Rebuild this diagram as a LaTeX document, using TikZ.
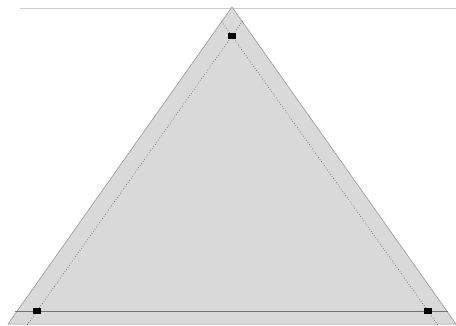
\documentclass[tikz,border=0pt]{standalone}
\usetikzlibrary{calc}
\begin{document}
\begin{tikzpicture}[x=1pt,y=-1pt,
  sq/.style={fill=black,draw=none,minimum width=8pt,minimum height=6pt,inner sep=0pt},
  guide/.style={dotted,line width=0.6pt,black!70},
  outer/.style={fill=black!15,draw=black!45,line width=0.5pt}]
\useasboundingbox (0,0) rectangle (456,325);
\fill[white] (0,0) rectangle (456,325);
% faint frame line at top
\draw[black!20,line width=0.8pt] (20,8) -- (456,8);
% outer gray triangle
\coordinate (o1) at (232,7);
\coordinate (o2) at (8,324);
\coordinate (o3) at (456,324);
\draw[outer] (o1) -- (o2) -- (o3) -- cycle;
% vertices of inner triangle
\node[sq] (a) at (232,36) {};
\node[sq] (b) at (37,311) {};
\node[sq] (c) at (428,311) {};
% solid base line
\coordinate (bl) at (15,311);
\coordinate (br) at (448,311);
\draw[black!55,line width=0.6pt] (bl) -- (b) -- (c) -- (br);
% dotted sides, extended past the vertices
\draw[guide] ($(b.center)!-17pt!(a.center)$) -- ($(a.center)!-19pt!(b.center)$);
\draw[guide] ($(c.center)!-17pt!(a.center)$) -- ($(a.center)!-19pt!(c.center)$);
\node[sq] at (a) {};
\node[sq] at (b) {};
\node[sq] at (c) {};
\end{tikzpicture}
\end{document}
